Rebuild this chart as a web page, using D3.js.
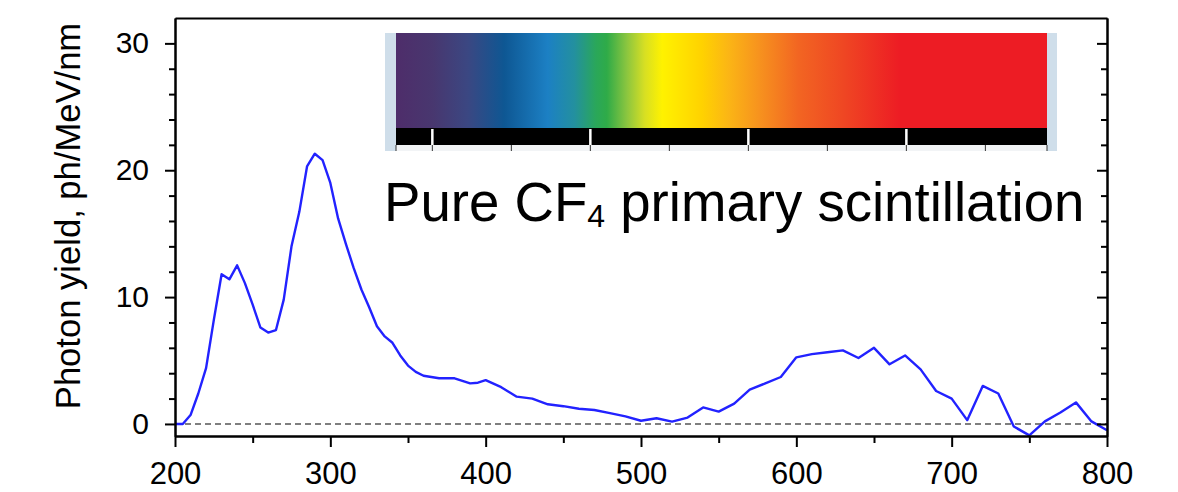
<!DOCTYPE html>
<html>
<head>
<meta charset="utf-8">
<script src="https://cdn.jsdelivr.net/npm/d3@7"></script>
<style>
  body { margin: 0; background: #fff; }
  text { font-family: "Liberation Sans", Arial, Helvetica, sans-serif; }
</style>
</head>
<body>
<div id="chart"></div>
<script>
// wavelength (nm) and photon yield (ph/MeV/nm)
var wavelength = [200, 205, 210, 215, 220, 225, 230, 235, 240, 245, 250, 255, 260, 265, 270, 275, 280, 285, 290, 295,
    300, 305, 310, 315, 320, 325, 330, 335, 340, 345, 350, 355, 360, 370, 380, 390, 395, 400, 410, 420,
    430, 440, 450, 460, 470, 480, 490, 500, 510, 520, 530, 540, 550, 560, 570, 580, 590, 600, 610, 620,
    630, 640, 650, 660, 670, 680, 690, 700, 710, 720, 730, 740, 750, 760, 770, 780, 790, 800];
var photonYield = [0, 0, 0.7, 2.4, 4.4, 8.2, 11.8, 11.4, 12.5, 11.1, 9.4, 7.6, 7.2, 7.4, 9.8, 14.0, 16.7, 20.3, 21.3, 20.8,
    19.0, 16.2, 14.2, 12.3, 10.6, 9.2, 7.7, 6.9, 6.4, 5.4, 4.6, 4.1, 3.8, 3.6, 3.6, 3.2, 3.25, 3.45, 2.9, 2.15,
    2.0, 1.55, 1.4, 1.2, 1.1, 0.85, 0.6, 0.25, 0.45, 0.18, 0.5, 1.3, 0.97, 1.6, 2.7, 3.2, 3.7, 5.25, 5.5, 5.65,
    5.8, 5.2, 6.0, 4.7, 5.4, 4.3, 2.6, 2.0, 0.3, 3.0, 2.4, -0.2, -0.9, 0.2, 0.9, 1.7, 0.2, -0.5];

var xMajorTicks = [200, 300, 400, 500, 600, 700, 800];
var xMinorTicks = [250, 350, 450, 550, 650, 750];
var yMajorTicks = [0, 10, 20, 30];
var yMinorTicks = [2, 4, 6, 8, 12, 14, 16, 18, 22, 24, 26, 28];

// colour spectrum inset
var spectrumStops = [0, 0.057, 0.11, 0.166, 0.233, 0.274, 0.307, 0.324, 0.355, 0.382, 0.409, 0.47, 0.51, 0.557, 0.618, 0.686, 0.774, 1];
var spectrumColors = ["#4e2d6a", "#48376f", "#3b4782", "#0e5793", "#1c80c4", "#23909f", "#2aa75a", "#2fab48", "#8cc63f",
    "#d7df23", "#fff200", "#ffd200", "#fbb615", "#f7931e", "#f26522", "#ef4723", "#ed1c24", "#ed1c24"];
var spectrumMajor = [400, 500, 600, 700];
var spectrumMinor = [400, 450, 500, 550, 600, 650, 700, 750];

var titleMain = "Pure CF";
var titleSub = "4";
var titleRest = " primary scintillation";
var yTitle = "Photon yield, ph/MeV/nm";

var W = 1178, H = 492;
var plotLeft = 175, plotRight = 1107, plotTop = 18, plotBottom = 436;

var svg = d3.select("#chart").append("svg")
    .attr("width", W)
    .attr("height", H);

var xScale = d3.scaleLinear().domain([200, 800]).range([plotLeft, plotRight]);
var yScale = d3.scaleLinear().domain([-0.95, 32.0]).range([plotBottom, plotTop]);

//Spectrum inset
var grad = svg.append("defs").append("linearGradient")
    .attr("id", "spec")
    .attr("x1", "0%").attr("x2", "100%")
    .attr("y1", "0%").attr("y2", "0%");
grad.selectAll("stop")
    .data(spectrumStops)
    .enter().append("stop")
    .attr("offset", function(d) { return d; })
    .attr("stop-color", function(d, i) { return spectrumColors[i]; });

var inset = { x0: 385, x1: 1057, y0: 33, y1: 151, gx0: 396, gx1: 1047, gy1: 128, by1: 145 };
var specScale = d3.scaleLinear().domain([377, 789]).range([inset.gx0, inset.gx1]);

svg.append("rect")
    .attr("x", inset.x0).attr("y", inset.y0)
    .attr("width", inset.x1 - inset.x0).attr("height", inset.y1 - inset.y0)
    .attr("fill", "#cfdeea");
svg.append("rect")
    .attr("x", inset.gx0).attr("y", inset.y0)
    .attr("width", inset.gx1 - inset.gx0).attr("height", inset.gy1 - inset.y0)
    .attr("fill", "url(#spec)");
svg.append("rect")
    .attr("x", inset.gx0).attr("y", inset.gy1)
    .attr("width", inset.gx1 - inset.gx0).attr("height", inset.by1 - inset.gy1)
    .attr("fill", "#000");
svg.append("rect")
    .attr("x", inset.gx0).attr("y", inset.by1)
    .attr("width", inset.gx1 - inset.gx0).attr("height", inset.y1 - inset.by1)
    .attr("fill", "#f2f4f6");

svg.selectAll(".specmajor")
    .data(spectrumMajor)
    .enter().append("line")
    .attr("x1", function(d) { return specScale(d); })
    .attr("x2", function(d) { return specScale(d); })
    .attr("y1", inset.gy1 + 1).attr("y2", inset.by1)
    .attr("stroke", "#fff").attr("stroke-width", 2.5);

svg.selectAll(".specminor")
    .data(spectrumMinor.concat(specScale.domain()))
    .enter().append("line")
    .attr("x1", function(d) { return specScale(d); })
    .attr("x2", function(d) { return specScale(d); })
    .attr("y1", inset.by1).attr("y2", inset.y1)
    .attr("stroke", "#333").attr("stroke-width", 1);

// Title
var title = svg.append("text")
    .attr("x", 384)
    .attr("y", 221)
    .attr("font-size", 54.6)
    .attr("fill", "#000");
title.append("tspan").text(titleMain);
title.append("tspan").attr("font-size", 32).attr("dy", 6).text(titleSub);
title.append("tspan").attr("dy", -6).text(titleRest);

// Zero line
svg.append("line")
    .attr("x1", plotLeft).attr("x2", plotRight)
    .attr("y1", yScale(0)).attr("y2", yScale(0))
    .attr("stroke", "#555")
    .attr("stroke-width", 1.6)
    .attr("stroke-dasharray", "6,4");

// Curve
var line = d3.line()
    .x(function(d, i) { return xScale(wavelength[i]); })
    .y(function(d) { return yScale(d); });

svg.append("path")
    .datum(photonYield)
    .attr("d", line)
    .attr("fill", "none")
    .attr("stroke", "#2222ff")
    .attr("stroke-width", 2.4)
    .attr("stroke-linejoin", "round");

//Axes
function styleAxis(g) {
    g.selectAll("path, line").attr("stroke", "#000").attr("stroke-width", 2);
    g.selectAll("text").attr("fill", "#000").attr("font-family", "Liberation Sans, Arial, sans-serif");
}

svg.append("g")
    .attr("transform", "translate(0," + plotBottom + ")")
    .call(d3.axisBottom(xScale).tickValues(xMajorTicks).tickSize(11).tickSizeOuter(0).tickPadding(15).tickFormat(d3.format("d")))
    .call(styleAxis)
    .selectAll("text").attr("font-size", 31);

svg.append("g")
    .attr("transform", "translate(0," + plotBottom + ")")
    .call(d3.axisBottom(xScale).tickValues(xMinorTicks).tickSize(7).tickSizeOuter(0).tickFormat(""))
    .call(styleAxis);

svg.append("g")
    .attr("transform", "translate(" + plotLeft + ",0)")
    .call(d3.axisLeft(yScale).tickValues(yMajorTicks).tickSize(10).tickSizeOuter(0).tickPadding(16).tickFormat(d3.format("d")))
    .call(styleAxis)
    .selectAll("text").attr("font-size", 30);

svg.append("g")
    .attr("transform", "translate(" + plotLeft + ",0)")
    .call(d3.axisLeft(yScale).tickValues(yMinorTicks).tickSize(6).tickSizeOuter(0).tickFormat(""))
    .call(styleAxis);

svg.append("g")
    .attr("transform", "translate(" + plotRight + ",0)")
    .call(d3.axisRight(yScale).tickValues(yMajorTicks).tickSize(-10).tickSizeOuter(0).tickFormat(""))
    .call(styleAxis);

svg.append("g")
    .attr("transform", "translate(" + plotRight + ",0)")
    .call(d3.axisRight(yScale).tickValues(yMinorTicks).tickSize(-6).tickSizeOuter(0).tickFormat(""))
    .call(styleAxis);

svg.append("g")
    .attr("transform", "translate(0," + plotTop + ")")
    .call(d3.axisTop(xScale).tickValues([]).tickSizeOuter(0))
    .call(styleAxis);

// Y title
svg.append("text")
    .attr("transform", "translate(80," + 216 + ") rotate(-90)")
    .attr("text-anchor", "middle")
    .attr("font-size", 34.6)
    .attr("fill", "#000")
    .text(yTitle);
</script>
</body>
</html>
